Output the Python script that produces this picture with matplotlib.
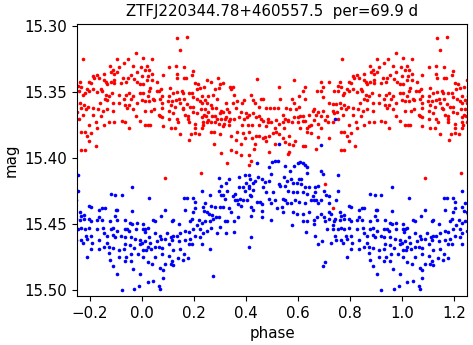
import matplotlib
matplotlib.use("Agg")

import matplotlib.pyplot as plt
import numpy as np

# phase-folded ZTF light curve, phases in [0, 1)
title = "ZTFJ220344.78+460557.5  per=69.9 d"

red_phase = [
    0.136, 0.174, 0.146, 0.005, 0.040, 0.131, 0.163, 0.105, 0.996, 0.018,
    0.013, 0.026, 0.040, 0.079, 0.133, 0.135, 0.191, 0.197, 0.163, 0.169,
    0.022, 0.999, 0.019, 0.037, 0.059, 0.204, 0.217, 0.250, 0.267, 0.291,
    0.313, 0.299, 0.992, 0.005, 0.031, 0.027, 0.056, 0.065, 0.074, 0.108,
    0.154, 0.179, 0.192, 0.210, 0.223, 0.240, 0.282, 0.297, 0.992, 0.003,
    0.021, 0.044, 0.069, 0.078, 0.105, 0.121, 0.136, 0.159, 0.163, 0.115,
    0.101, 0.131, 0.142, 0.197, 0.213, 0.231, 0.244, 0.255, 0.274, 0.290,
    0.000, 0.013, 0.028, 0.046, 0.077, 0.110, 0.146, 0.156, 0.172, 0.185,
    0.197, 0.223, 0.231, 0.249, 0.267, 0.269, 0.285, 0.305, 0.323, 0.328,
    0.013, 0.035, 0.047, 0.077, 0.105, 0.128, 0.159, 0.197, 0.228, 0.244,
    0.255, 0.268, 0.300, 0.313, 0.323, 0.064, 0.069, 0.121, 0.167, 0.177,
    0.176, 0.213, 0.238, 0.231, 0.246, 0.282, 0.287, 0.303, 0.318, 0.992,
    0.013, 0.023, 0.031, 0.077, 0.105, 0.133, 0.140, 0.179, 0.205, 0.233,
    0.249, 0.255, 0.264, 0.282, 0.297, 0.315, 0.079, 0.110, 0.128, 0.205,
    0.231, 0.236, 0.265, 0.276, 0.310, 0.146, 0.190, 0.218, 0.204, 0.300,
    0.182, 0.277, 0.304, 0.326, 0.090, 0.228,
    0.441, 0.586, 0.338, 0.349, 0.355, 0.342, 0.528, 0.628, 0.621, 0.351,
    0.367, 0.385, 0.394, 0.419, 0.426, 0.458, 0.464, 0.436, 0.451, 0.492,
    0.509, 0.522, 0.532, 0.577, 0.586, 0.603, 0.626, 0.605, 0.592, 0.569,
    0.554, 0.608, 0.621, 0.641, 0.656, 0.336, 0.362, 0.381, 0.400, 0.413,
    0.426, 0.451, 0.477, 0.486, 0.541, 0.549, 0.562, 0.586, 0.600, 0.628,
    0.644, 0.338, 0.354, 0.372, 0.394, 0.405, 0.438, 0.456, 0.467, 0.515,
    0.528, 0.544, 0.562, 0.577, 0.599, 0.618, 0.662, 0.336, 0.333, 0.385,
    0.406, 0.423, 0.451, 0.477, 0.483, 0.496, 0.513, 0.548, 0.608, 0.633,
    0.650, 0.364, 0.390, 0.413, 0.423, 0.438, 0.451, 0.467, 0.474, 0.490,
    0.503, 0.515, 0.528, 0.541, 0.564, 0.636, 0.651, 0.344, 0.362, 0.397,
    0.382, 0.433, 0.477, 0.513, 0.550, 0.567, 0.587, 0.618, 0.628, 0.341,
    0.362, 0.380, 0.413, 0.431, 0.490, 0.562, 0.567, 0.579, 0.419, 0.413,
    0.669,
    0.977, 0.771, 0.905, 0.946, 0.931, 0.877, 0.887, 0.913, 0.964, 0.979,
    0.903, 0.892, 0.882, 0.854, 0.826, 0.813, 0.815, 0.836, 0.854, 0.862,
    0.879, 0.892, 0.926, 0.944, 0.956, 0.969, 0.690, 0.721, 0.762, 0.796,
    0.805, 0.867, 0.892, 0.918, 0.938, 0.982, 0.672, 0.687, 0.697, 0.754,
    0.764, 0.790, 0.795, 0.810, 0.841, 0.847, 0.860, 0.873, 0.886, 0.912,
    0.937, 0.950, 0.964, 0.695, 0.738, 0.756, 0.772, 0.779, 0.828, 0.856,
    0.931, 0.959, 0.721, 0.733, 0.746, 0.762, 0.777, 0.792, 0.813, 0.838,
    0.864, 0.890, 0.913, 0.936, 0.949, 0.979, 0.662, 0.677, 0.697, 0.736,
    0.751, 0.764, 0.785, 0.831, 0.849, 0.867, 0.890, 0.941, 0.964, 0.669,
    0.690, 0.713, 0.738, 0.756, 0.774, 0.813, 0.841, 0.977, 0.703, 0.677,
    0.715, 0.733, 0.797, 0.823, 0.854, 0.874, 0.892, 0.921, 0.936, 0.687,
    0.779, 0.803, 0.790, 0.764, 0.828, 0.949, 0.677, 0.721, 0.795, 0.821,
    0.764, 0.779, 0.705, 0.736,
]
red_mag = [
    15.309, 15.308, 15.318, 15.324, 15.325, 15.330, 15.331, 15.331, 15.331, 15.330,
    15.333, 15.333, 15.336, 15.337, 15.336, 15.339, 15.337, 15.334, 15.339, 15.339,
    15.338, 15.338, 15.341, 15.341, 15.342, 15.343, 15.344, 15.341, 15.342, 15.339,
    15.343, 15.344, 15.344, 15.344, 15.347, 15.349, 15.349, 15.349, 15.348, 15.347,
    15.349, 15.351, 15.351, 15.348, 15.347, 15.346, 15.348, 15.347, 15.351, 15.351,
    15.353, 15.355, 15.355, 15.353, 15.353, 15.351, 15.350, 15.351, 15.355, 15.357,
    15.357, 15.356, 15.355, 15.354, 15.355, 15.353, 15.356, 15.353, 15.352, 15.355,
    15.356, 15.357, 15.357, 15.356, 15.358, 15.360, 15.358, 15.362, 15.359, 15.361,
    15.361, 15.357, 15.358, 15.358, 15.360, 15.362, 15.362, 15.364, 15.358, 15.363,
    15.364, 15.364, 15.363, 15.362, 15.364, 15.361, 15.363, 15.365, 15.363, 15.363,
    15.365, 15.368, 15.366, 15.365, 15.369, 15.367, 15.368, 15.366, 15.367, 15.368,
    15.370, 15.366, 15.367, 15.369, 15.368, 15.368, 15.370, 15.370, 15.370, 15.372,
    15.375, 15.375, 15.375, 15.369, 15.370, 15.370, 15.373, 15.373, 15.374, 15.373,
    15.373, 15.371, 15.373, 15.373, 15.374, 15.374, 15.376, 15.377, 15.377, 15.377,
    15.377, 15.375, 15.380, 15.380, 15.376, 15.382, 15.382, 15.382, 15.381, 15.382,
    15.386, 15.389, 15.396, 15.404, 15.415, 15.411,
    15.340, 15.341, 15.346, 15.346, 15.352, 15.348, 15.346, 15.346, 15.349, 15.358,
    15.357, 15.358, 15.356, 15.352, 15.356, 15.355, 15.355, 15.358, 15.361, 15.362,
    15.362, 15.362, 15.355, 15.355, 15.358, 15.353, 15.355, 15.361, 15.363, 15.363,
    15.362, 15.368, 15.368, 15.367, 15.364, 15.365, 15.362, 15.365, 15.366, 15.367,
    15.366, 15.368, 15.362, 15.370, 15.367, 15.370, 15.371, 15.369, 15.369, 15.372,
    15.376, 15.370, 15.370, 15.369, 15.370, 15.369, 15.369, 15.370, 15.372, 15.371,
    15.374, 15.373, 15.372, 15.373, 15.373, 15.372, 15.371, 15.372, 15.375, 15.375,
    15.375, 15.375, 15.375, 15.376, 15.373, 15.373, 15.377, 15.377, 15.377, 15.377,
    15.375, 15.380, 15.381, 15.380, 15.385, 15.383, 15.383, 15.385, 15.384, 15.383,
    15.381, 15.380, 15.382, 15.385, 15.383, 15.380, 15.381, 15.383, 15.386, 15.385,
    15.389, 15.389, 15.387, 15.389, 15.388, 15.389, 15.387, 15.391, 15.391, 15.394,
    15.395, 15.398, 15.398, 15.393, 15.395, 15.397, 15.395, 15.390, 15.402, 15.405,
    15.393,
    15.320, 15.325, 15.325, 15.325, 15.328, 15.330, 15.333, 15.331, 15.330, 15.335,
    15.335, 15.336, 15.335, 15.336, 15.337, 15.338, 15.339, 15.339, 15.341, 15.342,
    15.342, 15.341, 15.339, 15.339, 15.337, 15.340, 15.342, 15.342, 15.342, 15.342,
    15.343, 15.344, 15.343, 15.343, 15.342, 15.342, 15.349, 15.349, 15.346, 15.345,
    15.346, 15.348, 15.349, 15.348, 15.348, 15.349, 15.352, 15.353, 15.351, 15.352,
    15.352, 15.351, 15.353, 15.354, 15.349, 15.349, 15.352, 15.351, 15.350, 15.355,
    15.355, 15.355, 15.358, 15.359, 15.359, 15.358, 15.360, 15.361, 15.362, 15.358,
    15.356, 15.358, 15.358, 15.360, 15.360, 15.358, 15.363, 15.365, 15.364, 15.364,
    15.365, 15.362, 15.363, 15.363, 15.364, 15.363, 15.364, 15.362, 15.363, 15.367,
    15.368, 15.368, 15.366, 15.370, 15.367, 15.367, 15.368, 15.368, 15.371, 15.374,
    15.373, 15.373, 15.375, 15.373, 15.375, 15.373, 15.373, 15.372, 15.373, 15.377,
    15.380, 15.381, 15.383, 15.380, 15.377, 15.377, 15.384, 15.385, 15.387, 15.391,
    15.394, 15.394, 15.420, 15.438,
]

blue_phase = [
    0.297, 0.305, 0.323, 0.295, 0.303, 0.313, 0.321, 0.328, 0.262, 0.231,
    0.162, 0.172, 0.197, 0.203, 0.244, 0.267, 0.282, 0.300, 0.313, 0.026,
    0.090, 0.164, 0.197, 0.205, 0.233, 0.238, 0.249, 0.256, 0.269, 0.285,
    0.295, 0.321, 0.328, 0.300, 0.323, 0.290, 0.044, 0.049, 0.005, 0.072,
    0.115, 0.121, 0.144, 0.185, 0.192, 0.218, 0.231, 0.244, 0.262, 0.274,
    0.003, 0.013, 0.021, 0.010, 0.026, 0.049, 0.069, 0.097, 0.113, 0.121,
    0.133, 0.146, 0.164, 0.179, 0.197, 0.210, 0.223, 0.233, 0.249, 0.267,
    0.992, 0.000, 0.013, 0.031, 0.021, 0.059, 0.074, 0.090, 0.115, 0.141,
    0.167, 0.185, 0.203, 0.223, 0.231, 0.262, 0.992, 0.005, 0.015, 0.036,
    0.049, 0.064, 0.077, 0.105, 0.121, 0.146, 0.162, 0.179, 0.192, 0.005,
    0.021, 0.038, 0.051, 0.077, 0.105, 0.115, 0.138, 0.159, 0.177, 0.110,
    0.121, 0.069, 0.079, 0.090, 0.079, 0.044, 0.021, 0.064, 0.069, 0.274,
    0.992,
    0.441, 0.487, 0.500, 0.510, 0.523, 0.549, 0.585, 0.600, 0.608, 0.621,
    0.626, 0.633, 0.633, 0.569, 0.546, 0.559, 0.574, 0.579, 0.597, 0.603,
    0.613, 0.613, 0.628, 0.644, 0.497, 0.474, 0.490, 0.528, 0.531, 0.549,
    0.462, 0.446, 0.436, 0.426, 0.415, 0.397, 0.413, 0.372, 0.336, 0.372,
    0.387, 0.395, 0.410, 0.426, 0.413, 0.400, 0.464, 0.477, 0.505, 0.562,
    0.579, 0.597, 0.621, 0.636, 0.359, 0.351, 0.356, 0.367, 0.377, 0.390,
    0.405, 0.415, 0.421, 0.441, 0.454, 0.462, 0.490, 0.497, 0.510, 0.541,
    0.551, 0.556, 0.574, 0.590, 0.605, 0.626, 0.649, 0.659, 0.333, 0.341,
    0.369, 0.382, 0.421, 0.426, 0.462, 0.521, 0.538, 0.544, 0.579, 0.595,
    0.618, 0.644, 0.354, 0.369, 0.421, 0.462, 0.495, 0.577, 0.621, 0.636,
    0.354, 0.421, 0.413, 0.631, 0.527, 0.688, 0.744,
    0.690, 0.697, 0.754, 0.677, 0.667, 0.664, 0.662, 0.669, 0.677, 0.687,
    0.700, 0.708, 0.721, 0.721, 0.746, 0.754, 0.687, 0.718, 0.726, 0.762,
    0.764, 0.777, 0.795, 0.805, 0.836, 0.846, 0.856, 0.900, 0.905, 0.879,
    0.895, 0.921, 0.962, 0.962, 0.662, 0.674, 0.700, 0.705, 0.718, 0.738,
    0.744, 0.762, 0.777, 0.795, 0.803, 0.826, 0.836, 0.846, 0.877, 0.897,
    0.905, 0.936, 0.954, 0.962, 0.979, 0.662, 0.713, 0.736, 0.736, 0.754,
    0.764, 0.779, 0.795, 0.828, 0.849, 0.854, 0.879, 0.887, 0.905, 0.933,
    0.941, 0.951, 0.977, 0.667, 0.692, 0.741, 0.746, 0.764, 0.785, 0.790,
    0.803, 0.808, 0.836, 0.867, 0.887, 0.895, 0.918, 0.933, 0.956, 0.974,
    0.677, 0.728, 0.774, 0.803, 0.836, 0.854, 0.867, 0.874, 0.890, 0.913,
    0.931, 0.936, 0.954, 0.969, 0.790, 0.872, 0.913, 0.938, 0.959, 0.985,
    0.705, 0.697, 0.877, 0.887, 0.933, 0.956, 0.964, 0.905, 0.921, 0.969,
    0.987,
]
blue_mag = [
    15.415, 15.421, 15.419, 15.425, 15.428, 15.428, 15.431, 15.425, 15.428, 15.425,
    15.430, 15.430, 15.430, 15.433, 15.434, 15.436, 15.437, 15.437, 15.437, 15.430,
    15.439, 15.439, 15.441, 15.438, 15.437, 15.440, 15.441, 15.442, 15.443, 15.445,
    15.445, 15.448, 15.448, 15.452, 15.457, 15.457, 15.447, 15.448, 15.450, 15.444,
    15.448, 15.447, 15.450, 15.448, 15.446, 15.447, 15.449, 15.448, 15.448, 15.446,
    15.454, 15.454, 15.453, 15.456, 15.460, 15.457, 15.459, 15.457, 15.460, 15.459,
    15.459, 15.457, 15.455, 15.456, 15.454, 15.451, 15.454, 15.457, 15.455, 15.453,
    15.462, 15.464, 15.463, 15.464, 15.467, 15.463, 15.461, 15.461, 15.462, 15.463,
    15.462, 15.461, 15.459, 15.460, 15.465, 15.469, 15.465, 15.470, 15.470, 15.469,
    15.467, 15.467, 15.468, 15.465, 15.470, 15.469, 15.473, 15.465, 15.465, 15.475,
    15.479, 15.480, 15.475, 15.473, 15.474, 15.478, 15.476, 15.477, 15.476, 15.480,
    15.481, 15.483, 15.485, 15.480, 15.491, 15.493, 15.494, 15.497, 15.499, 15.489,
    15.488,
    15.404, 15.407, 15.403, 15.402, 15.402, 15.406, 15.406, 15.404, 15.403, 15.404,
    15.405, 15.407, 15.411, 15.410, 15.414, 15.417, 15.416, 15.419, 15.419, 15.416,
    15.416, 15.420, 15.422, 15.422, 15.412, 15.418, 15.417, 15.420, 15.421, 15.421,
    15.416, 15.414, 15.417, 15.419, 15.416, 15.413, 15.413, 15.414, 15.416, 15.422,
    15.422, 15.425, 15.423, 15.424, 15.421, 15.419, 15.422, 15.426, 15.426, 15.425,
    15.426, 15.426, 15.426, 15.427, 15.427, 15.429, 15.432, 15.432, 15.431, 15.432,
    15.432, 15.428, 15.429, 15.433, 15.433, 15.435, 15.431, 15.434, 15.432, 15.431,
    15.432, 15.434, 15.434, 15.432, 15.433, 15.434, 15.432, 15.429, 15.438, 15.441,
    15.435, 15.436, 15.437, 15.439, 15.440, 15.438, 15.437, 15.441, 15.441, 15.442,
    15.442, 15.441, 15.448, 15.445, 15.444, 15.445, 15.447, 15.451, 15.448, 15.448,
    15.456, 15.460, 15.467, 15.456, 15.389, 15.390, 15.370,
    15.410, 15.412, 15.413, 15.421, 15.422, 15.426, 15.432, 15.432, 15.434, 15.432,
    15.425, 15.428, 15.429, 15.434, 15.432, 15.425, 15.442, 15.441, 15.442, 15.441,
    15.444, 15.443, 15.436, 15.437, 15.439, 15.438, 15.438, 15.439, 15.439, 15.427,
    15.428, 15.428, 15.422, 15.440, 15.447, 15.445, 15.445, 15.448, 15.446, 15.448,
    15.446, 15.447, 15.446, 15.446, 15.448, 15.447, 15.445, 15.447, 15.448, 15.444,
    15.447, 15.447, 15.449, 15.450, 15.449, 15.450, 15.454, 15.451, 15.454, 15.454,
    15.453, 15.454, 15.453, 15.454, 15.453, 15.457, 15.454, 15.453, 15.455, 15.454,
    15.454, 15.455, 15.454, 15.459, 15.463, 15.459, 15.462, 15.462, 15.459, 15.461,
    15.459, 15.464, 15.462, 15.459, 15.458, 15.460, 15.459, 15.460, 15.460, 15.461,
    15.465, 15.464, 15.464, 15.469, 15.469, 15.467, 15.464, 15.467, 15.468, 15.470,
    15.469, 15.465, 15.466, 15.468, 15.475, 15.472, 15.475, 15.475, 15.473, 15.473,
    15.479, 15.482, 15.477, 15.482, 15.478, 15.478, 15.484, 15.488, 15.500, 15.499,
    15.497,
]


def wrap(phase, mag):
    # repeat one cycle on each side so the window -0.25..1.25 is filled
    phase = np.asarray(phase)
    mag = np.asarray(mag)
    return np.concatenate([phase - 1, phase, phase + 1]), np.tile(mag, 3)


plt.rcParams["font.size"] = 10.8

fig = plt.figure(figsize=(4.73, 3.45), dpi=100)
ax = fig.add_axes([0.163, 0.142, 0.824, 0.788])

rp, rm = wrap(red_phase, red_mag)
bp, bm = wrap(blue_phase, blue_mag)
ax.plot(rp, rm, "o", color="red", ms=2.6, mew=0)
ax.plot(bp, bm, "o", color="blue", ms=2.6, mew=0)

ax.set_xlim(-0.25, 1.25)
ax.set_ylim(15.5045, 15.2985)
ax.set_yticks([15.30, 15.35, 15.40, 15.45, 15.50])
ax.set_xlabel("phase")
ax.set_ylabel("mag")
ax.set_title(title, fontsize=10.8)

fig.savefig("out.png", dpi=100)
